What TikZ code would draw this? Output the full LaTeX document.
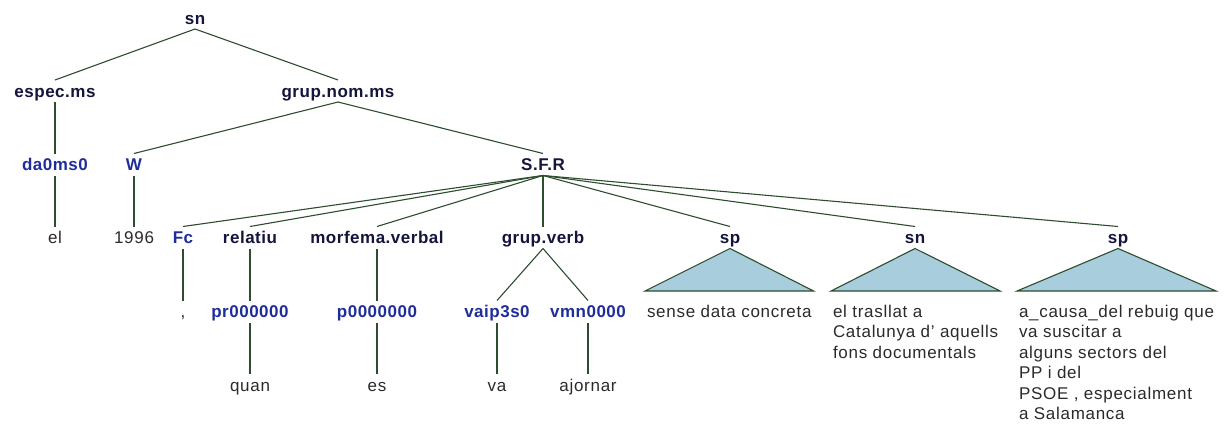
\documentclass[tikz,border=0pt]{standalone}
\usepackage{fontspec}
\usepackage{xcolor}
\newfontfamily\catfont[LetterSpace=3.0]{Liberation Sans}
\newfontfamily\wordfont[LetterSpace=4.2]{Liberation Sans}
\definecolor{clrCat}{HTML}{14143C}
\definecolor{clrTag}{HTML}{1F2D9A}
\definecolor{clrWord}{HTML}{2A2A2A}
\definecolor{clrEdge}{HTML}{2E4D2E}
\definecolor{clrTri}{HTML}{A8CEDE}
\tikzset{
  cat/.style={anchor=base, inner xsep=1pt, inner ysep=4pt, outer sep=0pt,
    text height=13pt, text depth=1pt, text=clrCat,
    font=\catfont\bfseries\fontsize{17}{20.5}\selectfont},
  tag/.style={cat, text=clrTag},
  leaf/.style={cat, text=clrWord,
    font=\wordfont\fontsize{17}{20.5}\selectfont},
  chunk/.style={anchor=north west, align=left, inner xsep=2pt,
    inner ysep=14pt, outer sep=0pt, text=clrWord,
    font=\wordfont\fontsize{17}{20.5}\selectfont},
  edge/.style={line width=1.1pt, clrEdge},
  tri/.style={edge, fill=clrTri, line join=miter},
}
\begin{document}
\begin{tikzpicture}[x=1pt, y=-1pt]
\useasboundingbox (0,0) rectangle (1229,426);

% Grundlinien der sechs Zeilen
\def\yA{24}
\def\yB{97}
\def\yC{170.5}
\def\yD{243.5}
\def\yE{317.5}
\def\yF{391}

% -- Wurzel ---------------------------------------------------------------
\node[cat] (sn) at (195,\yA) {sn};
\node[cat] (espec) at (55,\yB) {espec.ms};
\node[cat] (gnom) at (338,\yB) {grup.nom.ms};
\draw[edge] (sn.south) -- (espec.north);
\draw[edge] (sn.south) -- (gnom.north);

% -- espec.ms / W ---------------------------------------------------------
\node[tag] (da) at (55,\yC) {da0ms0};
\node[leaf] (el) at (55,\yD) {el};
\draw[edge] (espec.south) -- (da.north);
\draw[edge] (da.south) -- (el.north);

\node[tag] (w) at (134,\yC) {W};
\node[leaf] (year) at (134,\yD) {1996};
\draw[edge] (gnom.south) -- (w.north);
\draw[edge] (w.south) -- (year.north);

% -- S.F.R ----------------------------------------------------------------
\node[cat] (sfr) at (543,\yC) {S.F.R};
\draw[edge] (gnom.south) -- (sfr.north);

\node[tag] (fc) at (183,\yD) {Fc};
\node[leaf] (comma) at (183,\yE) {,};
\draw[edge] (sfr.south) -- (fc.north);
\draw[edge] (fc.south) -- (comma.north);

\foreach \n/\x/\c/\t/\w in {rel/250/relatiu/pr000000/quan,
    morf/377/morfema.verbal/p0000000/es}{
  \node[cat] (\n) at (\x,\yD) {\c};
  \node[tag] (\n-t) at (\x,\yE) {\t};
  \node[leaf] (\n-w) at (\x,\yF) {\w};
  \draw[edge] (sfr.south) -- (\n.north);
  \draw[edge] (\n.south) -- (\n-t.north);
  \draw[edge] (\n-t.south) -- (\n-w.north);
}

% -- grup.verb ------------------------------------------------------------
\node[cat] (gverb) at (543,\yD) {grup.verb};
\draw[edge] (sfr.south) -- (gverb.north);
\foreach \n/\x/\t/\w in {aux/497/vaip3s0/va, inf/588/vmn0000/ajornar}{
  \node[tag] (\n) at (\x,\yE) {\t};
  \node[leaf] (\n-w) at (\x,\yF) {\w};
  \draw[edge] (gverb.south) -- (\n.north);
  \draw[edge] (\n.south) -- (\n-w.north);
}

% -- zusammengefasste Teilbaeume -----------------------------------------
\node[cat] (sp1) at (730,\yD) {sp};
\node[chunk] (ck1) at (645,291) {sense data concreta};

\node[cat] (sn2) at (915,\yD) {sn};
\node[chunk] (ck2) at (831,291)
  {el trasllat a\\Catalunya d’ aquells\\fons documentals};

\node[cat] (sp3) at (1118,\yD) {sp};
\node[chunk] (ck3) at (1017,291)
  {a\_causa\_del rebuig que\\va suscitar a\\alguns sectors del\\PP i del\\
   PSOE , especialment\\a Salamanca};

\foreach \p/\k in {sp1/ck1, sn2/ck2, sp3/ck3}{
  \draw[edge] (sfr.south) -- (\p.north);
  \draw[tri] (\p.south) -- (\k.north west) -- (\k.north east) -- cycle;
}

\end{tikzpicture}
\end{document}
